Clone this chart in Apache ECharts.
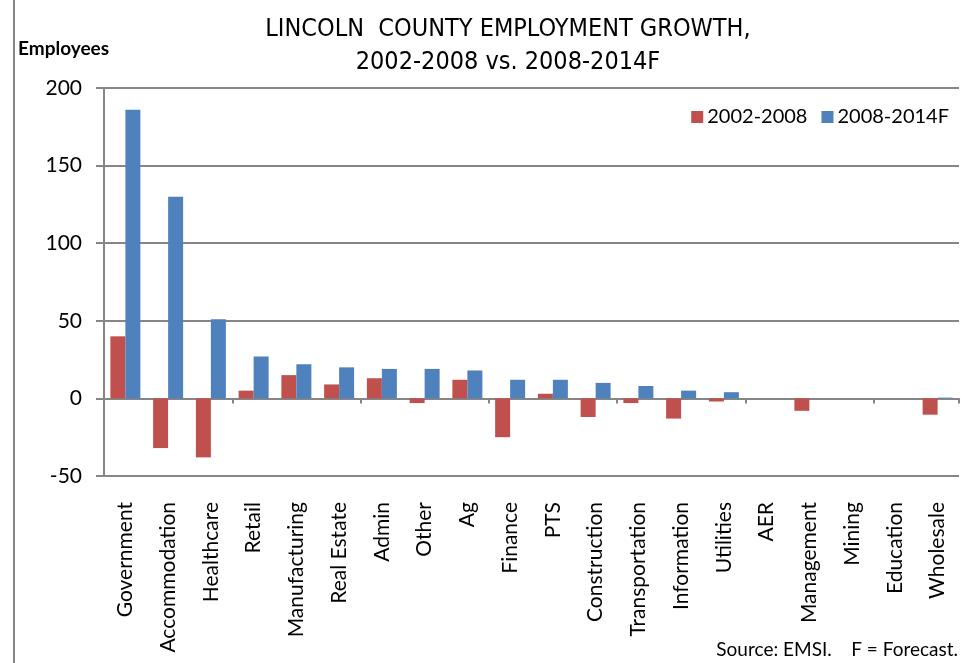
<!DOCTYPE html>
<html>
<head>
<meta charset="utf-8">
<script src="https://cdn.jsdelivr.net/npm/echarts@6/dist/echarts.min.js"></script>
<style>html,body{margin:0;padding:0;background:#fff;}#c{width:976px;height:663px;}</style>
</head>
<body>
<div id="c"></div>
<script>
var categories = ['Government','Accommodation','Healthcare','Retail','Manufacturing','Real Estate','Admin','Other','Ag','Finance','PTS','Construction','Transportation','Information','Utilities','AER','Management','Mining','Education','Wholesale'];
var growth2002_2008 = [40,-32,-38,5,15,9,13,-3,12,-25,3,-12,-3,-13,-2,0,-8,0,0,-10.5];
var growth2008_2014F = [186,130,51,27,22,20,19,19,18,12,12,10,8,5,4,0,0,0,0,0.5];
var yTicks = {min:-50, max:200, interval:50};

var TFONT = '"Liberation Sans Narrow", "DejaVu Sans Condensed", "Open Sans", sans-serif';
var FONT = 'Lato, "Open Sans", sans-serif';
var chart = echarts.init(document.getElementById('c'));
chart.setOption({
  animation:false,
  backgroundColor:'#fff',
  title:{
    text:'LINCOLN  COUNTY EMPLOYMENT GROWTH,\n2002-2008 vs. 2008-2014F',
    left:503, top:8, textAlign:'center',
    textStyle:{fontFamily:TFONT, fontWeight:'normal', fontSize:25, color:'#000', lineHeight:33}
  },
  legend:{
    right:22, top:102, itemWidth:12, itemHeight:12, itemGap:14,
    icon:'rect',
    textStyle:{fontFamily:FONT, fontSize:20, color:'#000', padding:[0,0,0,-1]},
    data:['2002-2008','2008-2014F']
  },
  grid:{left:104, right:17, top:88, bottom:187, containLabel:false},
  xAxis:[{
    type:'category', data:categories,
    axisLine:{onZero:true, lineStyle:{color:'#868686', width:2}},
    axisTick:{show:true, length:5, lineStyle:{color:'#868686', width:2}},
    axisLabel:{show:false}
  },{
    type:'category', data:categories, position:'bottom',
    axisLine:{show:false}, axisTick:{show:false},
    axisLabel:{show:true, rotate:90, margin:26, fontFamily:FONT, fontSize:21, color:'#000', interval:0}
  }],
  yAxis:{
    type:'value', min:yTicks.min, max:yTicks.max, interval:yTicks.interval,
    axisLine:{show:true, lineStyle:{color:'#868686', width:2}},
    axisTick:{show:true, length:8, lineStyle:{color:'#868686', width:2}},
    splitLine:{lineStyle:{color:'#868686', width:2}},
    axisLabel:{fontFamily:FONT, fontSize:21, color:'#000', margin:22}
  },
  series:[{
    name:'2002-2008', type:'bar', xAxisIndex:0, data:growth2002_2008,
    barWidth:15, barGap:'0%',
    itemStyle:{color:'#C0504D'}
  },{
    name:'2008-2014F', type:'bar', xAxisIndex:0, data:growth2008_2014F,
    barWidth:15, barGap:'0%',
    itemStyle:{color:'#4F81BD'}
  }],
  graphic:[{
    type:'line', shape:{x1:14, y1:0, x2:14, y2:663}, style:{stroke:'#868686', lineWidth:2}
  },{
    type:'text', left:18, top:39,
    style:{text:'Employees', font:'bold 19px Lato, "Open Sans", sans-serif', fill:'#000'}
  },{
    type:'text', right:18, top:640,
    style:{text:'Source: EMSI.    F = Forecast.', font:'19px Lato, "Open Sans", sans-serif', fill:'#000'}
  }]
});
</script>
</body>
</html>
